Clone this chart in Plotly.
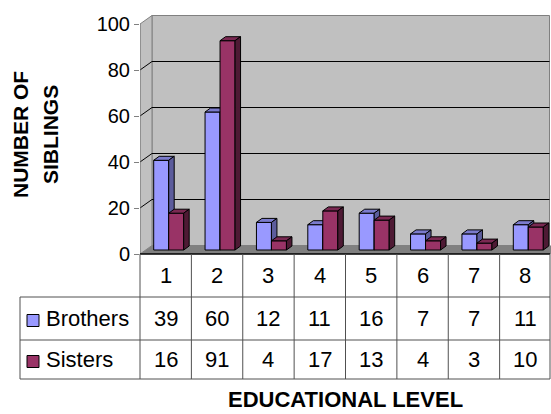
import plotly.graph_objects as go

# ---- data ----
levels = ["1", "2", "3", "4", "5", "6", "7", "8"]
brothers = [39, 60, 12, 11, 16, 7, 7, 11]
sisters = [16, 91, 4, 17, 13, 4, 3, 10]
y_ticks = [0, 20, 40, 60, 80, 100]

# ---- page geometry (pixels) ----
W, H = 551, 414
X_LEFT, X_RIGHT = 140, 551      # front edge of the plot / table columns
Y_ZERO, Y_TOP = 254, 14         # front zero line and top of the back wall
PX_X = (X_RIGHT - X_LEFT) / len(levels)   # pixels per category
PX_Y = 2.3                                # pixels per sibling
Y_MAX = (Y_ZERO - Y_TOP) / PX_Y


def ux(p):   # pixel offset -> x units
    return p / PX_X


def uy(p):   # pixel offset -> y units
    return p / PX_Y


def px(xp):
    return xp / W


def py(yp):
    return 1 - yp / H


WALL_DX, WALL_DY = ux(12), uy(8.5)       # depth of walls and floor
BAR_DX, BAR_DY = ux(3), uy(4)            # bar front offset from the front plane
DEP_DX, DEP_DY = ux(5.5), uy(4)          # bar depth
BAR_W = ux(15)

series = [
    ("Brothers", brothers, "#9999FF", "#7B7BCC", "#5C5C9C", -1),
    ("Sisters", sisters, "#993366", "#7A2952", "#4E1A34", 0),
]

fig = go.Figure()
for k, (name, vals, c_front, c_top, c_side, side) in enumerate(series):
    xa = "x" if k == 0 else "x2"
    ya = "y" if k == 0 else "y2"
    xs = [i + 1 + BAR_DX + (side + 0.5) * BAR_W for i in range(len(vals))]
    fig.add_trace(go.Bar(
        x=xs, y=vals, base=[BAR_DY] * len(vals), width=BAR_W,
        marker=dict(color=c_front, line=dict(color="black", width=1)),
        name=name, showlegend=False, hoverinfo="skip", xaxis=xa, yaxis=ya,
    ))
    tx, ty, sx, sy = [], [], [], []
    for xc, v in zip(xs, vals):
        x0, x1 = xc - BAR_W / 2, xc + BAR_W / 2
        b, t = BAR_DY, BAR_DY + v
        tx += [x0, x1, x1 + DEP_DX, x0 + DEP_DX, x0, None]
        ty += [t, t, t + DEP_DY, t + DEP_DY, t, None]
        sx += [x1, x1 + DEP_DX, x1 + DEP_DX, x1, x1, None]
        sy += [b, b + DEP_DY, t + DEP_DY, t, b, None]
    for fx, fy, col in ((tx, ty, c_top), (sx, sy, c_side)):
        fig.add_trace(go.Scatter(
            x=fx, y=fy, mode="lines", fill="toself", fillcolor=col,
            line=dict(color="black", width=1), showlegend=False,
            hoverinfo="skip", xaxis=xa, yaxis=ya,
        ))

shapes = []
x_l, x_r = 0.5, 8.5
# back wall
shapes.append(dict(type="rect", xref="x", yref="y", x0=x_l + WALL_DX, x1=x_r - ux(1.5),
                   y0=WALL_DY, y1=100 + WALL_DY, fillcolor="#C0C0C0",
                   line=dict(color="#808080", width=1), layer="below"))
# side wall
shapes.append(dict(type="path", xref="x", yref="y",
                   path=f"M{x_l},0 L{x_l + WALL_DX},{WALL_DY} L{x_l + WALL_DX},{100 + WALL_DY} L{x_l},100 Z",
                   fillcolor="#C0C0C0", line=dict(color="#808080", width=1), layer="below"))
# floor
shapes.append(dict(type="path", xref="x", yref="y",
                   path=f"M{x_l},0 L{x_l + WALL_DX},{WALL_DY} L{x_r},{WALL_DY} L{x_r},0 Z",
                   fillcolor="#808080", line=dict(width=0), layer="below"))
# gridlines on side and back wall
for v in y_ticks[1:-1]:
    shapes.append(dict(type="line", xref="x", yref="y", x0=x_l, y0=v,
                       x1=x_l + WALL_DX, y1=v + WALL_DY, line=dict(color="black", width=1), layer="below"))
    shapes.append(dict(type="line", xref="x", yref="y", x0=x_l + WALL_DX, y0=v + WALL_DY,
                       x1=x_r - ux(1.5), y1=v + WALL_DY, line=dict(color="black", width=1), layer="below"))
# front value axis
shapes.append(dict(type="line", xref="x", yref="y", x0=x_l, y0=0, x1=x_l, y1=100,
                   line=dict(color="#808080", width=1), layer="below"))

# data table grid
LINE = dict(color="#505050", width=1)
ROW_Y = [Y_ZERO, 297, 340, 379]
shapes.append(dict(type="line", xref="paper", yref="paper", x0=px(X_LEFT), x1=px(X_RIGHT - 1),
                   y0=py(Y_ZERO), y1=py(Y_ZERO), line=dict(color="black", width=1.5)))
for yr in ROW_Y[1:]:
    shapes.append(dict(type="line", xref="paper", yref="paper", x0=px(20), x1=px(X_RIGHT - 1),
                       y0=py(yr), y1=py(yr), line=LINE))
for j in range(len(levels) + 1):
    xv = min(X_LEFT + j * PX_X, X_RIGHT - 1)
    shapes.append(dict(type="line", xref="paper", yref="paper", x0=px(xv), x1=px(xv),
                       y0=py(Y_ZERO), y1=py(ROW_Y[-1]), line=LINE))
shapes.append(dict(type="line", xref="paper", yref="paper", x0=px(20), x1=px(20),
                   y0=py(ROW_Y[1]), y1=py(ROW_Y[-1]), line=LINE))

annotations = []
FONT = "Liberation Sans, Arial, sans-serif"
TXT = 22
row_mid = [(ROW_Y[r] + ROW_Y[r + 1]) / 2 for r in range(3)]
for i, lab in enumerate(levels):
    annotations.append(dict(x=i + 1, y=py(row_mid[0]), xref="x", yref="paper", text=lab,
                            xanchor="center", yanchor="middle", showarrow=False,
                            font=dict(family=FONT, size=TXT, color="black")))
    for r, (_, vals, *_rest) in enumerate(series):
        annotations.append(dict(x=i + 1, y=py(row_mid[r + 1]), xref="x", yref="paper",
                                text=str(vals[i]), xanchor="center", yanchor="middle",
                                showarrow=False, font=dict(family=FONT, size=TXT, color="black")))
for r, (name, _, c_front, *_rest) in enumerate(series):
    yc = row_mid[r + 1] + 2
    shapes.append(dict(type="rect", xref="paper", yref="paper", x0=px(27), x1=px(39),
                       y0=py(yc - 6), y1=py(yc + 6), fillcolor=c_front,
                       line=dict(color="black", width=1)))
    annotations.append(dict(x=px(44), y=py(row_mid[r + 1]), xref="paper", yref="paper",
                            text=name, xanchor="left", yanchor="middle", showarrow=False,
                            font=dict(family=FONT, size=TXT, color="black")))

# axis titles
annotations.append(dict(x=px(345), y=py(399), xref="paper", yref="paper",
                        text="<b>EDUCATIONAL LEVEL</b>", xanchor="center", yanchor="middle",
                        showarrow=False, font=dict(family=FONT, size=22, color="black")))
annotations.append(dict(x=px(20), y=py(135), xref="paper", yref="paper",
                        text="<b>NUMBER OF</b>", textangle=-90, xanchor="center", yanchor="middle",
                        showarrow=False, font=dict(family=FONT, size=21, color="black")))
annotations.append(dict(x=px(50), y=py(135), xref="paper", yref="paper",
                        text="<b>SIBLINGS</b>", textangle=-90, xanchor="center", yanchor="middle",
                        showarrow=False, font=dict(family=FONT, size=21, color="black")))

x_dom = [px(X_LEFT), px(X_RIGHT)]
y_dom = [py(Y_ZERO), py(Y_TOP)]
hidden = dict(showgrid=False, zeroline=False, showline=False, showticklabels=False,
              ticks="", automargin=False)
fig.update_layout(
    width=W, height=H, margin=dict(l=0, r=0, t=0, b=0, pad=0), autosize=False,
    paper_bgcolor="white", plot_bgcolor="rgba(0,0,0,0)",
    barmode="overlay", showlegend=False,
    xaxis=dict(domain=x_dom, range=[x_l, x_r], **hidden),
    xaxis2=dict(domain=x_dom, range=[x_l, x_r], overlaying="x", **hidden),
    yaxis=dict(domain=y_dom, range=[0, Y_MAX], tickvals=y_ticks, ticks="outside",
               ticklen=5, tickcolor="#808080", showgrid=False, zeroline=False, showline=False,
               automargin=False, tickfont=dict(family=FONT, size=20, color="black")),
    yaxis2=dict(domain=y_dom, range=[0, Y_MAX], overlaying="y", **hidden),
    shapes=shapes, annotations=annotations,
    font=dict(family=FONT),
)
fig.write_html("out.html")
